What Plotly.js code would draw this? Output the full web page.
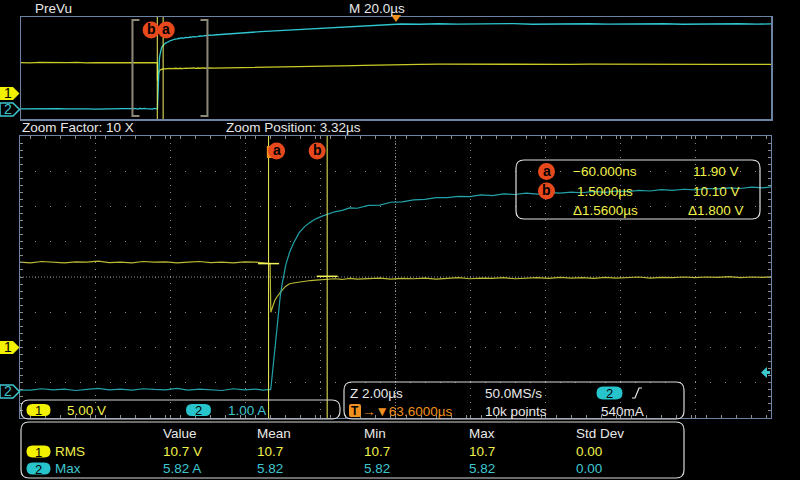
<!DOCTYPE html>
<html><head><meta charset="utf-8">
<script src="https://cdn.plot.ly/plotly-3.0.1.min.js"></script>
<style>html,body{margin:0;padding:0;background:#000;}#chart{width:800px;height:480px;}</style>
</head><body><div id="chart"></div>
<script>
// ---------------- DATA ----------------
// time relative to trigger, microseconds
const timeUs = [
  -36.4, -34, -31.5, -29, -26.5, -24, -21.5, -19, -16.5, -14, -11.5, -9,
  -6.68, -6.4, -6.1, -5.8, -5.5, -5.2, -4.9, -4.6, -4.3, -4.0, -3.7, -3.4, -3.1, -2.8, -2.5, -2.2, -1.9, -1.6, -1.3, -1.0, -0.7, -0.4, -0.2, -0.06, -0.02,
  0, 0.05, 0.1, 0.15, 0.2, 0.25, 0.3, 0.4, 0.5, 0.6, 0.75, 0.9, 1.05, 1.2, 1.35, 1.5,
  1.7, 1.9, 2.1, 2.3, 2.6, 2.9, 3.2, 3.5, 3.8, 4.1, 4.4, 4.7, 5.0, 5.3, 5.6, 5.9, 6.2, 6.5, 6.8, 7.1, 7.4, 7.7, 8.0, 8.3, 8.6, 8.9, 9.2, 9.5, 9.8, 10.1, 10.4, 10.7, 11.0, 11.3, 11.6, 11.9, 12.2, 12.5, 12.8, 13.1, 13.4,
  15, 17.5, 20, 22.5, 25, 27.5, 30, 32.5, 35, 37.5, 40, 42.5, 45, 47.5, 50, 52.5, 55, 57.5, 60, 62.5, 65,
  70, 75, 80, 85, 90, 95, 100, 105, 110, 115, 120, 125, 130, 135, 140, 145, 150, 155, 160, 163.6
];
// channel 1 (yellow), volts
const ch1Volts = [
  12.1, 12.0, 12.2, 12.1, 12.0, 12.1, 12.2, 12.0, 12.1, 12.1, 12.0, 12.2,
  12.1, 12.0, 12.2, 12.1, 12.0, 12.15, 12.1, 12.25, 12.05, 12.1, 12.0, 12.2, 12.1, 12.15, 12.0, 12.1, 12.2, 12.05, 12.1, 12.0, 12.15, 12.1, 12.05, 11.95, 11.9,
  5.0, 6.0, 6.6, 7.1, 7.5, 7.85, 8.15, 8.7, 9.05, 9.15, 9.3, 9.4, 9.5, 9.55, 9.6, 9.7,
  9.75, 9.65, 9.8, 9.7, 9.75, 9.85, 9.7, 9.8, 9.75, 9.85, 9.7, 9.8, 9.9, 9.75, 9.85, 9.8, 9.9, 9.75, 9.85, 9.9, 9.8, 9.95, 9.85, 9.9, 9.8, 9.95, 9.85, 9.9, 10.0, 9.85, 9.95, 9.9, 10.0, 9.9, 10.0, 9.95, 10.05, 9.9, 10.0, 9.95, 10.05,
  9.95, 10.0, 10.0, 10.05, 10.1, 10.15, 10.2, 10.3, 10.4, 10.45, 10.55, 10.6, 10.7, 10.8, 10.9, 10.95, 11.05, 11.15, 11.25, 11.35, 11.45,
  11.4, 11.5, 11.45, 11.4, 11.5, 11.45, 11.5, 11.4, 11.45, 11.5, 11.45, 11.4, 11.5, 11.45, 11.45, 11.5, 11.4, 11.45, 11.5, 11.45
];
// channel 2 (cyan), amps
const ch2Amps = [
  0.04, 0.06, 0.03, 0.05, 0.07, 0.04, 0.06, 0.05, 0.03, 0.06, 0.04, 0.07,
  0.06, 0.04, 0.08, 0.05, 0.07, 0.03, 0.06, 0.09, 0.05, 0.07, 0.04, 0.08, 0.06, 0.05, 0.09, 0.04, 0.07, 0.06, 0.03, 0.08, 0.05, 0.07, 0.04, 0.06, 0.05,
  0.08, 0.6, 1.25, 1.8, 2.25, 2.7, 3.05, 3.6, 3.95, 4.2, 4.5, 4.68, 4.8, 4.9, 4.97, 5.03,
  5.1, 5.14, 5.21, 5.2, 5.28, 5.29, 5.37, 5.38, 5.44, 5.45, 5.5, 5.5, 5.54, 5.53, 5.58, 5.56, 5.61, 5.59, 5.63, 5.6, 5.65, 5.63, 5.66, 5.64, 5.68, 5.65, 5.69, 5.67, 5.71, 5.69, 5.73, 5.71, 5.74, 5.72, 5.76, 5.75, 5.78, 5.76, 5.8, 5.78, 5.82,
  5.84, 5.9, 5.95, 6.0, 6.05, 6.1, 6.14, 6.18, 6.22, 6.26, 6.3, 6.34, 6.38, 6.42, 6.46, 6.5, 6.54, 6.58, 6.62, 6.66, 6.7,
  6.68, 6.72, 6.69, 6.71, 6.7, 6.73, 6.68, 6.71, 6.7, 6.72, 6.69, 6.71, 6.7, 6.72, 6.68, 6.71, 6.7, 6.72, 6.69, 6.71
];
// scope settings
const ch1VoltsPerDiv = 5.0, ch1OffsetDiv = -2.0;
const ch2AmpsPerDiv = 1.0, ch2OffsetDiv = -3.25;
const mainUsPerDiv = 20.0, triggerDelayUs = 63.6;
const zoomUsPerDiv = 2.0, zoomPositionUs = 3.32;
const triggerLevelA = 0.54;
// cursors
const cursorNames = ['a', 'b'];
const cursorTimesUs = [-0.06, 1.5];
const cursorVolts = [11.90, 10.10];
const cursorTimeText = ['\u221260.000ns', '1.5000\u00b5s', '\u03941.5600\u00b5s'];
const cursorVoltText = ['11.90 V', '10.10 V', '\u03941.800 V'];
// measurements
const measHeaders = ['Value', 'Mean', 'Min', 'Max', 'Std Dev'];
const measChannels = ['1', '2'];
const measNames = ['RMS', 'Max'];
const measValue = ['10.7 V', '5.82 A'];
const measMean = ['10.7', '5.82'];
const measMin = ['10.7', '5.82'];
const measMax = ['10.7', '5.82'];
const measStd = ['0.00', '0.00'];

// ---------------- LAYOUT HELPERS ----------------
const W = 800, H = 480;
const fx = x => x / W, fy = y => 1 - y / H;
const FONT = 'Liberation Sans, Arial, sans-serif';
const WHITE = '#e8e8e8', YEL = '#f0f04a', CYAN = '#3ec6cf', ORANGE = '#f0901e', CURLAB = '#e8491c',
      BOXC = '#d8d8d8', BORDER = '#6c83a3', GRID = '#8c8c8c';
const TR_Y = '#b9b934', TR_C = '#22a2a8', PV_Y = '#caca26', PV_C = '#2fc6cf';

function P(x, y) { return fx(x).toFixed(5) + ',' + fy(y).toFixed(5); }
function rr(x0, y0, x1, y1, r) {
  return 'M' + P(x0 + r, y0) + ' L' + P(x1 - r, y0) + ' Q' + P(x1, y0) + ' ' + P(x1, y0 + r) +
    ' L' + P(x1, y1 - r) + ' Q' + P(x1, y1) + ' ' + P(x1 - r, y1) + ' L' + P(x0 + r, y1) +
    ' Q' + P(x0, y1) + ' ' + P(x0, y1 - r) + ' L' + P(x0, y0 + r) + ' Q' + P(x0, y0) + ' ' + P(x0 + r, y0) + ' Z';
}
const shapes = [], ann = [];
function txt(x, y, text, color, anchor, size, extra) {
  return Object.assign({ xref: 'paper', yref: 'paper', x: fx(x), y: fy(y), text: text, showarrow: false,
    xanchor: anchor || 'left', yanchor: 'middle', borderpad: 0,
    font: { family: FONT, size: size || 13.5, color: color || WHITE } }, extra || {});
}
function box(x0, y0, x1, y1, r, color) {
  shapes.push({ type: 'path', xref: 'paper', yref: 'paper', path: rr(x0, y0, x1, y1, r),
    line: { color: color || BOXC, width: 1.2 }, fillcolor: 'rgba(0,0,0,0)', layer: 'above' });
}
function pill(cx, cy, w, h, color, label, tcolor) {
  shapes.push({ type: 'path', xref: 'paper', yref: 'paper', path: rr(cx - w / 2, cy - h / 2, cx + w / 2, cy + h / 2, h / 2),
    line: { width: 0 }, fillcolor: color, layer: 'above' });
  ann.push(txt(cx, cy + 0.5, label, tcolor || '#000', 'center', 13));
}
function circLabel(xref, xval, xoff, yref, yval, label) {
  shapes.push({ type: 'circle', xref: xref, xsizemode: 'pixel', xanchor: xval, x0: xoff - 8.5, x1: xoff + 8.5,
    yref: yref, ysizemode: 'pixel', yanchor: yval, y0: -8.5, y1: 8.5, fillcolor: CURLAB, line: { width: 0 }, layer: 'above' });
  ann.push({ xref: xref, x: xval, xshift: xoff, yref: yref, y: yval, yshift: 1, text: '<b>' + label + '</b>', showarrow: false,
    xanchor: 'center', yanchor: 'middle', borderpad: 0, font: { family: FONT, size: 14, color: '#000' } });
}
function groundMarker(yref, label, filled, color) {
  shapes.push({ type: 'path', xref: 'paper', xsizemode: 'pixel', xanchor: 0, yref: yref, ysizemode: 'pixel', yanchor: 0,
    path: 'M 0,6.5 L 13,6.5 L 19.5,0 L 13,-6.5 L 0,-6.5 Z',
    fillcolor: filled ? color : '#000', line: { color: color, width: filled ? 0 : 1.5 }, layer: 'above' });
  ann.push({ xref: 'paper', x: fx(8), yref: yref, y: 0, yshift: 0.5, text: label, showarrow: false, xanchor: 'center', yanchor: 'middle',
    borderpad: 0, font: { family: FONT, size: 14, color: filled ? '#000' : color } });
}

// axis ranges from scope settings
const xMain = [zoomPositionUs - 5 * zoomUsPerDiv, zoomPositionUs + 5 * zoomUsPerDiv];
const xPrev = [triggerDelayUs - 5 * mainUsPerDiv, triggerDelayUs + 5 * mainUsPerDiv];
const y1Range = [(-4 - ch1OffsetDiv) * ch1VoltsPerDiv, (4 - ch1OffsetDiv) * ch1VoltsPerDiv];
const y2Range = [(-4 - ch2OffsetDiv) * ch2AmpsPerDiv, (4 - ch2OffsetDiv) * ch2AmpsPerDiv];

// ---------------- SHAPES ----------------
// main graticule centre lines
shapes.push({ type: 'line', xref: 'x domain', x0: 0.5, x1: 0.5, yref: 'y domain', y0: 0, y1: 1, line: { color: GRID, width: 1, dash: '1px,2px' }, layer: 'below' });
shapes.push({ type: 'line', xref: 'x domain', x0: 0, x1: 1, yref: 'y domain', y0: 0.5, y1: 0.5, line: { color: GRID, width: 1, dash: '1px,2px' }, layer: 'below' });

// preview zoom brackets
shapes.push({ type: 'path', xref: 'x2', xsizemode: 'pixel', xanchor: xMain[0], yref: 'paper', ysizemode: 'pixel', yanchor: fy(68),
  path: 'M 7,48 L 0,48 L 0,-48 L 7,-48', line: { color: '#8e887a', width: 2 }, layer: 'above' });
shapes.push({ type: 'path', xref: 'x2', xsizemode: 'pixel', xanchor: xMain[1], yref: 'paper', ysizemode: 'pixel', yanchor: fy(68),
  path: 'M -7,48 L 0,48 L 0,-48 L -7,-48', line: { color: '#8e887a', width: 2 }, layer: 'above' });
// preview cursor lines
cursorTimesUs.forEach(t => shapes.push({ type: 'line', xref: 'x2', x0: t, x1: t, yref: 'y3 domain', y0: 0, y1: 1, line: { color: '#f4f460', width: 1 }, layer: 'above' }));
// preview expansion-point marker (orange)
shapes.push({ type: 'path', xref: 'x2', xsizemode: 'pixel', xanchor: triggerDelayUs, yref: 'paper', ysizemode: 'pixel', yanchor: fy(17),
  path: 'M -5,2 L 5,2 L 0,-5 Z', fillcolor: ORANGE, line: { width: 0 }, layer: 'above' });

// main cursor lines
cursorTimesUs.forEach(t => shapes.push({ type: 'line', xref: 'x', x0: t, x1: t, yref: 'y domain', y0: 0, y1: 1, line: { color: '#f4f45a', width: 1 }, layer: 'above' }));
// trigger position marker in zoom window (t = 0)
shapes.push({ type: 'rect', xref: 'x', xsizemode: 'pixel', xanchor: 0, x0: -4, x1: 4, yref: 'paper', ysizemode: 'pixel', yanchor: fy(152), y0: -6, y1: 6,
  fillcolor: ORANGE, line: { width: 0 }, layer: 'above' });
// trigger level arrow (ch2)
shapes.push({ type: 'path', xref: 'paper', xsizemode: 'pixel', xanchor: fx(771), yref: 'y2', ysizemode: 'pixel', yanchor: triggerLevelA,
  path: 'M -10,0 L -4,5.5 L -4,1.5 L -1,1.5 L -1,-1.5 L -4,-1.5 L -4,-5.5 Z', fillcolor: CYAN, line: { width: 0 }, layer: 'above' });

// ground markers
groundMarker('y3', '1', true, '#f2f200');
groundMarker('y4', '2', false, CYAN);
groundMarker('y', '1', true, '#f2f200');
groundMarker('y2', '2', false, CYAN);

// cursor labels
circLabel('x2', cursorTimesUs[1], -12, 'paper', fy(30), cursorNames[1]);
circLabel('x2', cursorTimesUs[0], 9, 'paper', fy(30), cursorNames[0]);
circLabel('x', cursorTimesUs[0], 8, 'paper', fy(151), cursorNames[0]);
circLabel('x', cursorTimesUs[1], -10, 'paper', fy(151), cursorNames[1]);

// cursor readout box
box(516, 160, 760, 219, 8, '#e0e0e0');
circLabel('paper', fx(546.5), 0, 'paper', fy(171.5), cursorNames[0]);
circLabel('paper', fx(546.5), 0, 'paper', fy(191), cursorNames[1]);
[171.5, 191, 210].forEach((y, i) => {
  ann.push(txt(605, y, cursorTimeText[i], YEL, 'center'));
  ann.push(txt(716, y, cursorVoltText[i], YEL, 'center'));
});

// channel settings box
box(21, 400, 340, 419, 8);
pill(38.5, 410, 24, 12, '#f2f200', '1');
ann.push(txt(66, 410, ch1VoltsPerDiv.toFixed(2) + ' V', YEL));
pill(198.5, 410, 25, 12, '#28c4cc', '2');
ann.push(txt(227, 410, ch2AmpsPerDiv.toFixed(2) + ' A', CYAN));

// timebase box
box(344, 382, 684, 419, 8);
ann.push(txt(349, 393, 'Z ' + zoomUsPerDiv.toFixed(2) + '\u00b5s', WHITE));
ann.push(txt(484, 393, '50.0MS/s', WHITE));
pill(609.5, 393, 26, 13, '#28c4cc', '2');
shapes.push({ type: 'path', xref: 'paper', yref: 'paper', path: 'M' + P(632, 398) + ' L' + P(635, 398) + ' L' + P(639, 388) + ' L' + P(642, 388),
  line: { color: WHITE, width: 1.2 }, layer: 'above' });
shapes.push({ type: 'path', xref: 'paper', yref: 'paper', path: rr(349, 404, 361, 417, 2), fillcolor: ORANGE, line: { width: 0 }, layer: 'above' });
ann.push(txt(355, 410.5, '<b>T</b>', '#000', 'center', 12));
ann.push(txt(361, 411, '\u2192\u25bc' + triggerDelayUs.toFixed(4) + '\u00b5s', ORANGE));
ann.push(txt(484, 411, '10k points', WHITE));
ann.push(txt(600, 411, Math.round(triggerLevelA * 1000) + 'mA', WHITE));

// measurement table
box(21, 422, 684, 478, 8);
const colX = [162, 256, 363, 468, 575];
measHeaders.forEach((h, i) => ann.push(txt(colX[i], 433, h, WHITE)));
[451, 468].forEach((y, r) => {
  const col = r === 0 ? YEL : CYAN;
  pill(38.5, y + 0.5, 24, 12, r === 0 ? '#f2f200' : '#28c4cc', measChannels[r]);
  ann.push(txt(54, y, measNames[r], col));
  [measValue, measMean, measMin, measMax, measStd].forEach((arr, i) => ann.push(txt(colX[i], y, arr[r], col)));
});

// top texts
ann.push(txt(34, 8, 'PreVu', WHITE));
ann.push(txt(348, 8, 'M ' + mainUsPerDiv.toFixed(1) + '\u00b5s', WHITE));
ann.push(txt(21, 128, 'Zoom Factor: ' + Math.round(mainUsPerDiv / zoomUsPerDiv) + ' X', WHITE));
ann.push(txt(225, 128, 'Zoom Position: ' + zoomPositionUs.toFixed(2) + '\u00b5s', WHITE));

// ---------------- TRACES ----------------
const traces = [
  { x: timeUs, y: ch2Amps, xaxis: 'x2', yaxis: 'y4', type: 'scatter', mode: 'lines', line: { color: PV_C, width: 1.3 } },
  { x: timeUs, y: ch1Volts, xaxis: 'x2', yaxis: 'y3', type: 'scatter', mode: 'lines', line: { color: PV_Y, width: 1.3 } },
  { x: timeUs, y: ch2Amps, xaxis: 'x', yaxis: 'y2', type: 'scatter', mode: 'lines', line: { color: TR_C, width: 1.2 } },
  { x: timeUs, y: ch1Volts, xaxis: 'x', yaxis: 'y', type: 'scatter', mode: 'lines', line: { color: TR_Y, width: 1.2 } },
  { x: cursorTimesUs, y: cursorVolts, xaxis: 'x', yaxis: 'y', type: 'scatter', mode: 'markers',
    marker: { symbol: 'line-ew', size: 15, line: { color: '#f4f45a', width: 1.5 } } }
];

const layout = {
  width: W, height: H, margin: { l: 0, r: 0, t: 0, b: 0 }, showlegend: false,
  paper_bgcolor: '#000', plot_bgcolor: '#000', font: { family: FONT, color: WHITE },
  xaxis: { domain: [fx(20), fx(771)], anchor: 'y', range: xMain, showticklabels: false,
    tick0: zoomPositionUs, dtick: zoomUsPerDiv, showgrid: true, gridcolor: GRID, gridwidth: 1, griddash: '1px,6px',
    zeroline: false, showline: true, linecolor: BORDER, linewidth: 1, mirror: 'allticks',
    ticks: 'inside', ticklen: 3, tickcolor: GRID,
    minor: { dtick: zoomUsPerDiv / 5, ticks: 'inside', ticklen: 3, tickcolor: GRID, showgrid: false } },
  yaxis: { domain: [fy(418), fy(136)], anchor: 'x', range: y1Range, showticklabels: false,
    tick0: 0, dtick: ch1VoltsPerDiv, showgrid: true, gridcolor: GRID, gridwidth: 1, griddash: '1px,14px',
    zeroline: false, showline: true, linecolor: BORDER, linewidth: 1, mirror: 'allticks',
    ticks: 'inside', ticklen: 3, tickcolor: GRID,
    minor: { dtick: ch1VoltsPerDiv / 5, ticks: 'inside', ticklen: 3, tickcolor: GRID, showgrid: false } },
  yaxis2: { overlaying: 'y', anchor: 'x', range: y2Range, showgrid: false, showticklabels: false, zeroline: false, showline: false, ticks: '' },
  xaxis2: { domain: [fx(21), fx(771)], anchor: 'y3', range: xPrev, showticklabels: false, showgrid: false, zeroline: false,
    showline: true, linecolor: BORDER, linewidth: 1.5, mirror: true, ticks: '' },
  yaxis3: { domain: [fy(119), fy(17)], anchor: 'x2', range: y1Range, showticklabels: false, showgrid: false, zeroline: false,
    showline: true, linecolor: BORDER, linewidth: 1.5, mirror: true, ticks: '' },
  yaxis4: { overlaying: 'y3', anchor: 'x2', range: y2Range, showgrid: false, showticklabels: false, zeroline: false, showline: false, ticks: '' },
  shapes: shapes, annotations: ann
};

Plotly.newPlot('chart', traces, layout, { staticPlot: true, displayModeBar: false });
</script></body></html>
